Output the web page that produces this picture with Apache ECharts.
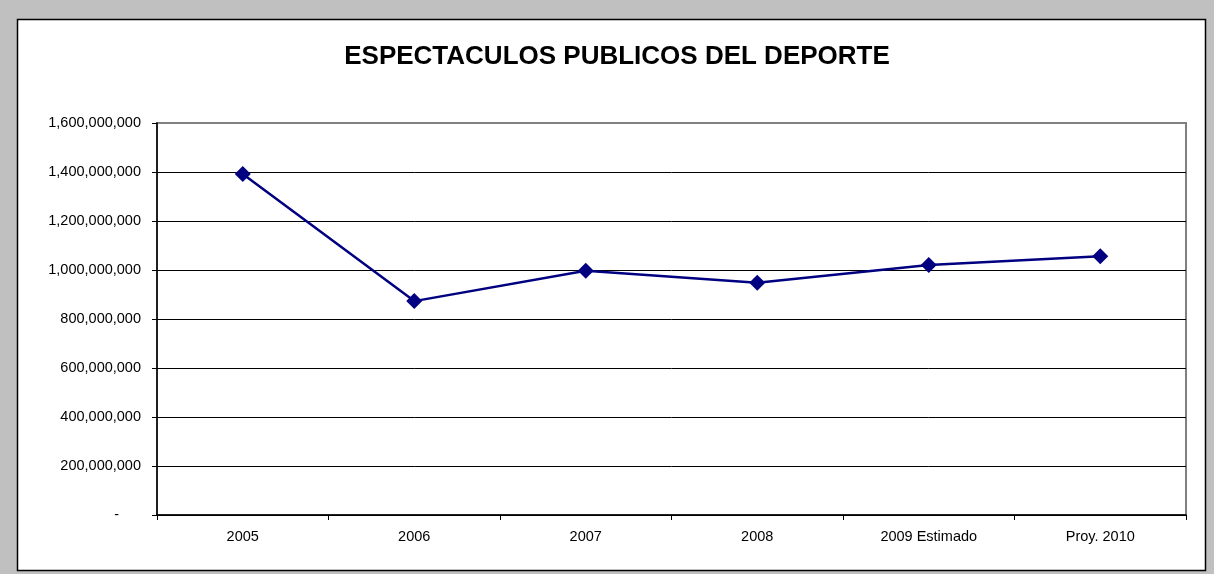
<!DOCTYPE html>
<html>
<head>
<meta charset="utf-8">
<script src="https://cdn.jsdelivr.net/npm/echarts@6/dist/echarts.min.js"></script>
<style>
html,body{margin:0;padding:0;background:#c0c0c0;}
#chart{width:1214px;height:574px;}
</style>
</head>
<body>
<div id="chart"></div>
<script>
var categories = ['2005', '2006', '2007', '2008', '2009 Estimado', 'Proy. 2010'];
var values = [1392000000, 873000000, 997000000, 948000000, 1020000000, 1056000000];
var yTicks = [0, 200000000, 400000000, 600000000, 800000000, 1000000000, 1200000000, 1400000000, 1600000000];

var chart = echarts.init(document.getElementById('chart'));
chart.setOption({
  backgroundColor: '#c0c0c0',
  animation: false,
  graphic: [{
    type: 'rect', z: -10, silent: true,
    shape: {x: 17.5, y: 19.5, width: 1188, height: 551},
    style: {fill: '#ffffff', stroke: '#000000', lineWidth: 1.5}
  }],
  title: {
    text: 'ESPECTACULOS PUBLICOS DEL DEPORTE',
    left: 612, top: 39, textAlign: 'center',
    textStyle: {fontFamily: 'Liberation Sans, Arial', fontWeight: 'bold', fontSize: 26, color: '#000'}
  },
  grid: {left: 157, right: 28, top: 123, bottom: 59, show: true, borderColor: '#808080', borderWidth: 2, backgroundColor: 'transparent'},
  xAxis: {
    type: 'category', data: categories, boundaryGap: true,
    axisLine: {lineStyle: {color: '#000', width: 1.5}},
    axisTick: {show: true, alignWithLabel: false, length: 5, inside: false, lineStyle: {color: '#000'}},
    axisLabel: {margin: 14, color: '#000', fontFamily: 'Liberation Sans, Arial', fontSize: 14.5},
    splitLine: {show: false}
  },
  yAxis: {
    type: 'value', min: 0, max: 1600000000, interval: 200000000,
    axisLine: {show: true, lineStyle: {color: '#000', width: 1.5}},
    axisTick: {show: true, length: 5, lineStyle: {color: '#000'}},
    axisLabel: {
      margin: 16, color: '#000', fontFamily: 'Liberation Sans, Arial', fontSize: 14.5,
      formatter: function (v) {
        if (v === 0) return '{d|-}';
        return v.toLocaleString('en-US');
      },
      rich: {d: {padding: [0, 22, 0, 0], fontSize: 14.5, fontFamily: 'Liberation Sans, Arial', color: '#000'}}
    },
    splitLine: {show: true, lineStyle: {color: ['#000', '#000', '#000', '#000', '#000', '#000', '#000', '#000', '#808080'], width: 1}}
  },
  series: [{
    type: 'line', data: values,
    symbol: 'diamond', symbolSize: 16,
    lineStyle: {color: '#000080', width: 2.5},
    itemStyle: {color: '#000080'}
  }]
});
</script>
</body>
</html>
